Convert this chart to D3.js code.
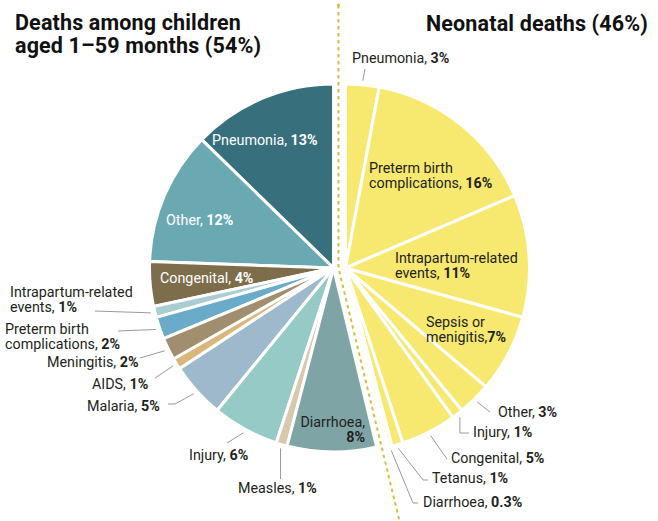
<!DOCTYPE html>
<html><head><meta charset="utf-8">
<script src="https://cdn.jsdelivr.net/npm/d3@7"></script>
<style>
html,body{margin:0;padding:0;background:#fff;}
svg{display:block;}
text{font-family:Roboto,"Liberation Sans",sans-serif;}
</style></head>
<body><svg id="c" width="658" height="521"></svg>
<script>
// ---- data ----
const groupTitles = [["Deaths among children","aged 1\u201359 months (54%)"],["Neonatal deaths (46%)"]];
const childCauses = ["Pneumonia","Other","Congenital","Intrapartum-related\nevents","Preterm birth\ncomplications","Meningitis","AIDS","Malaria","Injury","Measles","Diarrhoea"];
const childValues = [13,12,4,1,2,2,1,5,6,1,8];
const childColors = ["#376f7c","#6aa9b1","#7d6d4b","#a9cdd1","#69abc9","#a18e6e","#d9b67b","#9fb9cc","#95cac7","#d8c8ad","#7fa4a6"];
const neoCauses = ["Pneumonia","Preterm birth\ncomplications","Intrapartum-related\nevents","Sepsis or\nmenigitis","Other","Injury","Congenital","Tetanus","Diarrhoea"];
const neoValues = [3,16,11,7,3,1,5,1,0.3];
const neoColor = "#f7e970";

// ---- layout (positions / styles only) ----
const W = 658, H = 521, R = 184, CY = 268;
const leftCX = 333.5, rightCX = 345.5, dashX = 338.5;
const lineH = 14.5, labelSize = 14.3;
const leftLayout = [
  {x:212,y:145,fill:"#fff"},
  {x:166,y:225,fill:"#fff"},
  {x:160,y:283,fill:"#fff"},
  {x:10,y:297,lead:[[95,311]]},
  {x:5,y:334,lead:[[118,331]]},
  {x:47,y:367,lead:[[140,358]]},
  {x:92,y:389,lead:[[155,378]]},
  {x:87,y:411,lead:[[175,404],[168,404]]},
  {x:189,y:460,lead:[[227,443]]},
  {x:238,y:493,lead:[[null,479]]},
  {x:365,y:427,anchor:"end",valueLine:true}
];
const rightLayout = [
  {x:352,y:63,lead:[[365,69]]},
  {x:369,y:173},
  {x:395,y:263},
  {x:426,y:327,sep:","},
  {x:498,y:417,lead:[[490,412]]},
  {x:473,y:437,lead:[[null,433],[469,433]]},
  {x:451,y:463,lead:[[447,459]]},
  {x:432,y:483,lead:[[423,480],[428,480]]},
  {x:423,y:507,lead:[[413,503],[418,503]]}
];

const svg = d3.select("#c");
const leftSum = d3.sum(childValues), rightSum = d3.sum(neoValues), total = leftSum + rightSum;
const leftSpan = 2*Math.PI*leftSum/total, rightSpan = 2*Math.PI*rightSum/total;

const arc = d3.arc().innerRadius(0).outerRadius(R);
const leftPie = d3.pie().sort(null).startAngle(0).endAngle(-leftSpan)(childValues);
const rightPie = d3.pie().sort(null).startAngle(0).endAngle(rightSpan)(neoValues);

// dashed divider
const splitA = rightSpan;
const yBot = H;
const xBot = dashX + Math.tan(Math.PI - splitA) * (yBot - CY);
svg.append("path")
  .attr("d", d3.line()([[dashX,5],[dashX,CY],[xBot,yBot]]))
  .attr("fill","none").attr("stroke","#d6bd45").attr("stroke-width",2)
  .attr("stroke-dasharray","3.5,3.5").attr("stroke-linecap","butt");
svg.append("circle").attr("cx",dashX).attr("cy",5).attr("r",1.6).attr("fill","#d6bd45");

const gL = svg.append("g").attr("transform",`translate(${leftCX},${CY})`);
gL.selectAll("path").data(leftPie).join("path")
  .attr("d",arc).attr("fill",(d,i)=>childColors[i])
  .attr("stroke","#fff").attr("stroke-width",3).attr("stroke-linejoin","round");
const gR = svg.append("g").attr("transform",`translate(${rightCX},${CY})`);
gR.selectAll("path").data(rightPie).join("path")
  .attr("d",arc).attr("fill",neoColor)
  .attr("stroke","#fff").attr("stroke-width",3).attr("stroke-linejoin","round");

function edgePoint(cx, d, r){
  const a = (d.startAngle + d.endAngle)/2;
  return [cx + r*Math.sin(a), CY - r*Math.cos(a)];
}

function drawLabels(pieData, names, values, layout, cx){
  pieData.forEach((d,i)=>{
    const L = layout[i];
    if(L.lead){
      const p0 = edgePoint(cx, d, R+4);
      const pts = [p0].concat(L.lead.map(p=>[p[0]==null?p0[0]:p[0], p[1]]));
      svg.append("path").attr("d",d3.line()(pts))
        .attr("fill","none").attr("stroke","#9a9a9a").attr("stroke-width",1);
    }
    const lines = names[i].split("\n");
    const t = svg.append("text").attr("x",L.x).attr("y",L.y)
      .attr("font-size",labelSize).attr("fill",L.fill||"#231f20")
      .attr("text-anchor",L.anchor||"start");
    const val = values[i] + "%";
    lines.forEach((ln,j)=>{
      const last = j===lines.length-1;
      t.append("tspan").attr("x",L.x).attr("dy", j===0?0:lineH)
        .text(ln + (last ? (L.valueLine ? "," : (L.sep!=null?L.sep:", ")) : ""));
      if(last){
        if(L.valueLine){
          t.append("tspan").attr("x",L.x).attr("dy",lineH).attr("font-weight",700).text(val);
        } else {
          t.append("tspan").attr("font-weight",700).text(val);
        }
      }
    });
  });
}
drawLabels(leftPie, childCauses, childValues, leftLayout, leftCX);
drawLabels(rightPie, neoCauses, neoValues, rightLayout, rightCX);

// titles
groupTitles[0].forEach((s,j)=>svg.append("text").attr("x",15).attr("y",29.5 + j*23)
  .attr("font-size",21.5).attr("letter-spacing",0.15)
  .attr("font-weight",700).attr("fill","#111").text(s));
svg.append("text").attr("x",648).attr("y",31).attr("text-anchor","end").attr("letter-spacing",0.15)
  .attr("font-size",21.5).attr("font-weight",700).attr("fill","#111").text(groupTitles[1][0]);
</script></body></html>
